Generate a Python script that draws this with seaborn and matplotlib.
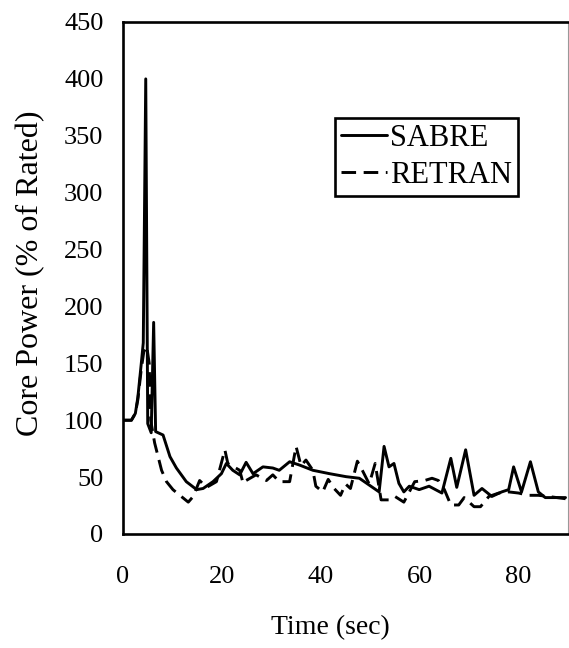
import matplotlib
matplotlib.use('Agg')
import matplotlib.pyplot as plt
import seaborn as sns

# SABRE (solid)
t_sabre = [0, 1.7, 2.5, 3.0, 3.7, 4.1, 4.6, 5.0, 5.7, 6.2, 6.6, 8.1, 9.5, 10.8, 12.8,
           14.9, 16.2, 18.2, 19.9, 20.9, 22.2, 23.6, 24.9, 26.3, 28.3, 30.3, 31.6, 33.7,
           35.7, 38.4, 41.8, 45.1, 47.8, 49.8, 51.8, 52.8, 53.8, 54.8, 55.8, 56.8, 57.9,
           59.9, 61.9, 63.2, 64.5, 66.3, 67.5, 69.3, 71.0, 72.6, 74.6, 76.6, 78.0, 79.0,
           80.6, 82.4, 84.0, 85.4, 89.5]
p_sabre = [100, 100, 106, 120, 150, 168, 400, 97, 89, 186, 90, 87, 68, 58, 46,
           39, 40, 46, 53, 62, 56, 52, 63, 53, 59, 58, 56, 63.5,
           60.6, 56, 53, 50.4, 49, 43, 37, 77, 59, 62, 44.5, 37, 42,
           39, 42, 39, 36, 66.5, 41, 74, 34, 40, 33, 37, 39, 59,
           37, 63.5, 37, 32, 32]

# RETRAN (dashed)
t_retran = [0, 1.7, 2.5, 3.0, 3.7, 4.2, 4.8, 5.3, 5.6, 6.4, 7.1, 7.8, 8.8, 10.1, 11.5,
            13.2, 14.2, 15.5, 16.9, 18.9, 20.6, 21.2, 23.6, 24.3, 24.9, 26.9, 29.0, 30.3,
            31.6, 33.7, 35.0, 36.0, 37.0, 38.4, 39.0, 40.4, 41.5, 42.7, 44.0, 45.0, 46.0,
            47.4, 48.4, 49.8, 51.0, 52.2, 53.8, 55.0, 56.8, 59.0, 61.0, 62.5, 63.8, 65.0,
            66.3, 67.9, 69.0, 71.0, 72.3, 74.0, 76.0, 78.0, 80.0, 82.0, 84.0, 86.0, 89.5]
p_retran = [100, 100, 106, 118, 145, 160, 165, 150, 100, 80, 68, 56, 46, 39, 34,
            28, 33, 47, 41, 46, 74, 62, 56, 44.5, 47, 52, 47, 52,
            46, 46, 77, 60, 65, 56, 42, 37, 48, 40, 34, 44, 40,
            64, 56, 44, 62, 30, 30, 33, 28, 46, 47, 49, 47, 39,
            25.5, 25.5, 32, 24, 24, 33, 36, 37, 36, 34, 34, 33, 31]

x_ticks = [0, 20, 40, 60, 80]
y_ticks = [0, 50, 100, 150, 200, 250, 300, 350, 400, 450]

sns.set_theme(style='white')
plt.rcParams['font.family'] = ['Liberation Serif', 'DejaVu Serif']

fig = plt.figure(figsize=(5.69, 6.48), dpi=100)
ax = fig.add_axes([123 / 569, 1 - 534 / 648, 445 / 569, 512 / 648])

sns.lineplot(x=t_sabre, y=p_sabre, ax=ax, color='black', linewidth=2.1,
             label='SABRE', sort=False)
sns.lineplot(x=t_retran, y=p_retran, ax=ax, color='black', linewidth=2.1,
             linestyle=(0, (5, 2.6)), label='RETRAN', sort=False)

ax.set_xlim(0, 90)
ax.set_ylim(0, 450)
ax.set_xticks(x_ticks)
ax.set_yticks(y_ticks)

for side in ['left', 'bottom', 'top']:
    ax.spines[side].set_color('black')
    ax.spines[side].set_linewidth(1.9)
ax.spines['right'].set_color('#999999')
ax.spines['right'].set_linewidth(0.8)

ax.tick_params(axis='both', direction='inout', length=10, width=1.6,
               colors='black', labelsize=19)
ax.tick_params(axis='x', pad=18)
ax.tick_params(axis='y', pad=9)

ax.set_xlabel('Time (sec)', fontsize=20, color='black')
ax.set_ylabel('Core Power (% of Rated)', fontsize=23, color='black')
ax.xaxis.set_label_coords(0.465, -0.158)
ax.yaxis.set_label_coords(-0.175, 0.51)

leg = ax.legend(loc='upper right', bbox_to_anchor=(0.888, 0.8125), fontsize=22,
                frameon=True, fancybox=False, edgecolor='black', framealpha=1,
                handlelength=1.5, handletextpad=0.1, borderpad=0.2,
                labelspacing=0.25, borderaxespad=0)
leg.get_frame().set_linewidth(1.9)
for txt in leg.get_texts():
    txt.set_color('black')

fig.savefig('out.png', dpi=100)
